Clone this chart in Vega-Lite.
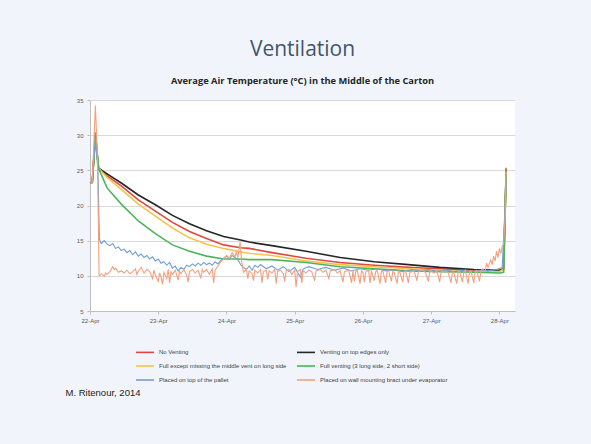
{
"$schema": "https://vega.github.io/schema/vega-lite/v6.json",
"width": 425, "height": 211,
"autosize": {"type": "none"},
"padding": {"left": 90, "top": 100, "right": 76, "bottom": 133},
"background": "#f1f5fb",
"config": {"view": {"stroke": null, "fill": "#ffffff"}, "font": "Liberation Sans"},
"title": {"text": "Ventilation", "subtitle": "Average Air Temperature (°C) in the Middle of the Carton", "font": "Open Sans", "fontSize": 21, "fontWeight": "normal", "color": "#44546a", "subtitleFont": "Open Sans", "subtitleFontSize": 9.3, "subtitleFontWeight": "bold", "subtitleColor": "#262626", "subtitlePadding": 17, "offset": 11, "anchor": "middle"},
"datasets": {
"smooth": [
{"t":"2014-04-22T00:00","a":23.2,"b":23.2,"c":23.2,"d":23.2},
{"t":"2014-04-22T00:48","a":23.3,"b":23.3,"c":23.3,"d":23.3},
{"t":"2014-04-22T01:54","a":30.2,"b":29.8,"c":30.0,"d":30.4},
{"t":"2014-04-22T03:00","a":25.3,"b":25.3,"c":25.3,"d":25.3},
{"t":"2014-04-22T06:00","a":24.2,"b":24.5,"c":24.0,"d":22.5},
{"t":"2014-04-22T11:00","a":22.8,"b":23.2,"c":22.3,"d":20.2},
{"t":"2014-04-22T17:00","a":20.8,"b":21.5,"c":20.2,"d":17.8},
{"t":"2014-04-22T23:00","a":19.2,"b":20.1,"c":18.5,"d":16.0},
{"t":"2014-04-23T05:00","a":17.6,"b":18.6,"c":16.8,"d":14.4},
{"t":"2014-04-23T11:00","a":16.3,"b":17.4,"c":15.4,"d":13.5},
{"t":"2014-04-23T17:00","a":15.3,"b":16.4,"c":14.5,"d":12.8},
{"t":"2014-04-23T23:00","a":14.4,"b":15.6,"c":13.9,"d":12.4},
{"t":"2014-04-24T05:00","a":14.0,"b":15.1,"c":13.4,"d":12.4},
{"t":"2014-04-24T08:00","a":13.9,"b":14.8,"c":13.2,"d":12.3},
{"t":"2014-04-24T16:00","a":13.3,"b":14.3,"c":12.9,"d":12.3},
{"t":"2014-04-25T04:00","a":12.5,"b":13.5,"c":12.1,"d":11.9},
{"t":"2014-04-25T16:00","a":11.9,"b":12.6,"c":11.6,"d":11.3},
{"t":"2014-04-26T04:00","a":11.5,"b":12.0,"c":11.3,"d":11.0},
{"t":"2014-04-26T16:00","a":11.2,"b":11.6,"c":11.0,"d":10.7},
{"t":"2014-04-27T03:00","a":11.0,"b":11.2,"c":10.8,"d":10.6},
{"t":"2014-04-27T15:00","a":10.7,"b":10.9,"c":10.6,"d":10.5},
{"t":"2014-04-28T00:00","a":10.7,"b":10.8,"c":10.6,"d":10.4},
{"t":"2014-04-28T01:30","a":11.0,"b":11.0,"c":11.0,"d":10.5},
{"t":"2014-04-28T02:24","a":25.0,"b":25.3,"c":24.8,"d":24.5}
],
"pallet": [
{"t":"2014-04-22T00:00","v":23.2},{"t":"2014-04-22T00:48","v":23.4},{"t":"2014-04-22T01:54","v":29.5},{"t":"2014-04-22T02:48","v":25.0},{"t":"2014-04-22T03:18","v":15.2},
{"t":"2014-04-22T04:00","v":14.6},{"t":"2014-04-22T05:00","v":15.0},{"t":"2014-04-22T06:00","v":14.5},{"t":"2014-04-22T07:00","v":14.3},{"t":"2014-04-22T08:00","v":14.6},
{"t":"2014-04-22T09:00","v":13.9},{"t":"2014-04-22T10:00","v":14.1},{"t":"2014-04-22T11:00","v":13.6},{"t":"2014-04-22T12:00","v":13.8},{"t":"2014-04-22T13:00","v":13.3},
{"t":"2014-04-22T14:00","v":13.6},{"t":"2014-04-22T15:00","v":13.0},{"t":"2014-04-22T16:00","v":13.4},{"t":"2014-04-22T17:00","v":12.8},{"t":"2014-04-22T18:00","v":13.1},
{"t":"2014-04-22T19:00","v":12.6},{"t":"2014-04-22T20:00","v":12.9},{"t":"2014-04-22T21:00","v":12.4},{"t":"2014-04-22T22:00","v":12.7},{"t":"2014-04-22T23:00","v":12.1},
{"t":"2014-04-23T00:00","v":12.4},{"t":"2014-04-23T01:00","v":11.8},{"t":"2014-04-23T02:00","v":12.0},{"t":"2014-04-23T03:00","v":11.5},{"t":"2014-04-23T04:00","v":11.9},
{"t":"2014-04-23T05:00","v":11.1},{"t":"2014-04-23T06:00","v":11.4},{"t":"2014-04-23T07:00","v":10.7},{"t":"2014-04-23T08:00","v":11.2},{"t":"2014-04-23T09:00","v":10.9},
{"t":"2014-04-23T10:00","v":11.5},{"t":"2014-04-23T11:00","v":11.3},{"t":"2014-04-23T12:00","v":11.7},{"t":"2014-04-23T13:00","v":11.4},{"t":"2014-04-23T14:00","v":11.8},
{"t":"2014-04-23T15:00","v":11.5},{"t":"2014-04-23T16:00","v":11.9},{"t":"2014-04-23T17:00","v":11.6},{"t":"2014-04-23T18:00","v":11.8},{"t":"2014-04-23T19:00","v":11.5},
{"t":"2014-04-23T20:00","v":12.0},{"t":"2014-04-23T21:00","v":11.7},{"t":"2014-04-23T22:00","v":12.2},{"t":"2014-04-23T23:00","v":12.5},{"t":"2014-04-24T00:00","v":12.8},
{"t":"2014-04-24T01:00","v":12.4},{"t":"2014-04-24T02:00","v":12.9},{"t":"2014-04-24T03:00","v":12.6},{"t":"2014-04-24T04:00","v":12.3},{"t":"2014-04-24T05:00","v":11.6},
{"t":"2014-04-24T06:00","v":11.2},{"t":"2014-04-24T07:00","v":10.9},{"t":"2014-04-24T08:00","v":11.4},{"t":"2014-04-24T09:00","v":10.8},{"t":"2014-04-24T10:00","v":11.5},
{"t":"2014-04-24T11:00","v":11.2},{"t":"2014-04-24T12:00","v":11.6},{"t":"2014-04-24T14:00","v":11.0},{"t":"2014-04-24T16:00","v":11.4},{"t":"2014-04-24T18:00","v":10.8},
{"t":"2014-04-24T20:00","v":11.3},{"t":"2014-04-24T22:00","v":10.6},{"t":"2014-04-25T00:00","v":11.2},{"t":"2014-04-25T02:00","v":9.8},{"t":"2014-04-25T03:00","v":11.0},
{"t":"2014-04-25T05:00","v":11.3},{"t":"2014-04-25T08:00","v":10.9},{"t":"2014-04-25T11:00","v":11.2},{"t":"2014-04-25T14:00","v":10.8},{"t":"2014-04-25T17:00","v":11.1},
{"t":"2014-04-25T20:00","v":10.7},{"t":"2014-04-25T23:00","v":11.0},{"t":"2014-04-26T02:00","v":10.8},{"t":"2014-04-26T05:00","v":11.0},{"t":"2014-04-26T08:00","v":10.7},
{"t":"2014-04-26T11:00","v":10.9},{"t":"2014-04-26T14:00","v":10.6},{"t":"2014-04-26T17:00","v":10.9},{"t":"2014-04-26T20:00","v":10.7},{"t":"2014-04-26T23:00","v":10.9},
{"t":"2014-04-27T02:00","v":10.6},{"t":"2014-04-27T05:00","v":10.8},{"t":"2014-04-27T08:00","v":10.6},{"t":"2014-04-27T11:00","v":10.8},{"t":"2014-04-27T14:00","v":10.6},
{"t":"2014-04-27T17:00","v":10.8},{"t":"2014-04-27T20:00","v":10.7},{"t":"2014-04-27T23:00","v":10.9},{"t":"2014-04-28T01:00","v":11.2},{"t":"2014-04-28T02:24","v":23.2}
],
"wall": [
{"t":"2014-04-22T00:00","v":23.2},{"t":"2014-04-22T00:48","v":23.3},{"t":"2014-04-22T01:54","v":34.2},{"t":"2014-04-22T02:36","v":27.0},{"t":"2014-04-22T03:12","v":10.0},
{"t":"2014-04-22T04:00","v":10.3},{"t":"2014-04-22T05:00","v":9.9},{"t":"2014-04-22T05:30","v":10.4},{"t":"2014-04-22T06:00","v":10.2},{"t":"2014-04-22T07:00","v":10.6},
{"t":"2014-04-22T08:00","v":11.3},{"t":"2014-04-22T08:30","v":10.9},{"t":"2014-04-22T09:00","v":11.1},{"t":"2014-04-22T10:00","v":10.5},{"t":"2014-04-22T11:00","v":10.7},
{"t":"2014-04-22T12:00","v":10.4},{"t":"2014-04-22T13:00","v":10.8},{"t":"2014-04-22T14:00","v":10.3},{"t":"2014-04-22T15:00","v":10.6},{"t":"2014-04-22T16:00","v":11.0},
{"t":"2014-04-22T16:30","v":10.2},{"t":"2014-04-22T17:00","v":10.7},{"t":"2014-04-22T18:00","v":11.2},{"t":"2014-04-22T19:00","v":10.4},{"t":"2014-04-22T20:00","v":10.9},
{"t":"2014-04-22T21:00","v":10.6},{"t":"2014-04-22T22:00","v":9.6},{"t":"2014-04-22T22:30","v":10.8},{"t":"2014-04-22T23:00","v":10.1},{"t":"2014-04-23T00:00","v":9.2},
{"t":"2014-04-23T00:30","v":10.4},{"t":"2014-04-23T01:00","v":9.8},{"t":"2014-04-23T01:30","v":8.8},{"t":"2014-04-23T02:00","v":10.5},{"t":"2014-04-23T03:00","v":9.6},
{"t":"2014-04-23T03:30","v":10.9},{"t":"2014-04-23T04:00","v":9.0},{"t":"2014-04-23T04:30","v":10.6},{"t":"2014-04-23T05:00","v":10.2},{"t":"2014-04-23T06:00","v":10.8},
{"t":"2014-04-23T07:00","v":9.4},{"t":"2014-04-23T07:30","v":10.7},{"t":"2014-04-23T08:00","v":10.3},{"t":"2014-04-23T09:00","v":10.9},{"t":"2014-04-23T10:00","v":10.1},
{"t":"2014-04-23T10:30","v":9.1},{"t":"2014-04-23T11:00","v":10.6},{"t":"2014-04-23T12:00","v":10.9},{"t":"2014-04-23T13:00","v":10.4},{"t":"2014-04-23T14:00","v":10.8},
{"t":"2014-04-23T15:00","v":9.7},{"t":"2014-04-23T15:30","v":10.9},{"t":"2014-04-23T16:00","v":10.5},{"t":"2014-04-23T17:00","v":10.9},{"t":"2014-04-23T18:00","v":10.2},
{"t":"2014-04-23T19:00","v":11.0},{"t":"2014-04-23T19:30","v":9.0},{"t":"2014-04-23T20:00","v":10.8},{"t":"2014-04-23T21:00","v":11.4},{"t":"2014-04-23T22:00","v":12.0},
{"t":"2014-04-23T23:00","v":12.4},{"t":"2014-04-24T00:00","v":12.9},{"t":"2014-04-24T01:00","v":12.5},{"t":"2014-04-24T02:00","v":13.3},{"t":"2014-04-24T03:00","v":12.7},
{"t":"2014-04-24T03:30","v":13.4},{"t":"2014-04-24T04:00","v":12.6},{"t":"2014-04-24T04:48","v":14.8},{"t":"2014-04-24T05:18","v":12.2},{"t":"2014-04-24T06:00","v":10.5},
{"t":"2014-04-24T07:00","v":10.9},{"t":"2014-04-24T07:30","v":9.6},{"t":"2014-04-24T08:00","v":10.7},{"t":"2014-04-24T09:00","v":10.3},{"t":"2014-04-24T09:30","v":9.3},
{"t":"2014-04-24T10:00","v":10.8},{"t":"2014-04-24T11:00","v":10.4},{"t":"2014-04-24T12:00","v":10.9},{"t":"2014-04-24T12:30","v":9.0},{"t":"2014-04-24T13:00","v":10.6},
{"t":"2014-04-24T14:00","v":10.8},{"t":"2014-04-24T14:30","v":9.5},{"t":"2014-04-24T15:00","v":10.7},{"t":"2014-04-24T16:00","v":10.4},{"t":"2014-04-24T17:00","v":10.9},
{"t":"2014-04-24T17:30","v":8.9},{"t":"2014-04-24T18:00","v":10.6},{"t":"2014-04-24T19:00","v":10.8},{"t":"2014-04-24T20:00","v":10.3},{"t":"2014-04-24T20:30","v":9.2},
{"t":"2014-04-24T21:00","v":10.7},{"t":"2014-04-24T22:00","v":10.9},{"t":"2014-04-24T23:00","v":10.2},{"t":"2014-04-25T00:00","v":10.8},{"t":"2014-04-25T00:30","v":8.4},
{"t":"2014-04-25T01:00","v":10.6},{"t":"2014-04-25T02:00","v":10.9},{"t":"2014-04-25T02:30","v":9.0},{"t":"2014-04-25T03:00","v":10.7},{"t":"2014-04-25T04:00","v":10.4},
{"t":"2014-04-25T05:00","v":10.8},{"t":"2014-04-25T06:00","v":10.6},{"t":"2014-04-25T07:00","v":9.3},{"t":"2014-04-25T07:30","v":10.7},{"t":"2014-04-25T09:00","v":10.9},
{"t":"2014-04-25T10:00","v":10.5},{"t":"2014-04-25T11:00","v":10.8},{"t":"2014-04-25T12:00","v":9.6},{"t":"2014-04-25T12:30","v":10.7},{"t":"2014-04-25T14:00","v":10.9},
{"t":"2014-04-25T15:00","v":10.4},{"t":"2014-04-25T16:00","v":10.7},{"t":"2014-04-25T17:00","v":9.1},{"t":"2014-04-25T17:30","v":10.6},{"t":"2014-04-25T19:00","v":10.8},
{"t":"2014-04-25T20:00","v":9.0},{"t":"2014-04-25T20:30","v":10.7},{"t":"2014-04-25T21:00","v":9.2},{"t":"2014-04-25T21:30","v":10.6},{"t":"2014-04-25T22:00","v":10.8},
{"t":"2014-04-25T23:00","v":8.9},{"t":"2014-04-25T23:30","v":10.7},{"t":"2014-04-26T00:00","v":10.5},{"t":"2014-04-26T00:30","v":9.1},{"t":"2014-04-26T01:00","v":10.6},
{"t":"2014-04-26T02:00","v":10.8},{"t":"2014-04-26T02:30","v":9.0},{"t":"2014-04-26T03:00","v":10.7},{"t":"2014-04-26T04:00","v":9.3},{"t":"2014-04-26T04:30","v":10.6},
{"t":"2014-04-26T05:00","v":10.8},{"t":"2014-04-26T06:00","v":8.9},{"t":"2014-04-26T06:30","v":10.6},{"t":"2014-04-26T07:00","v":10.7},{"t":"2014-04-26T08:00","v":9.0},
{"t":"2014-04-26T08:30","v":10.6},{"t":"2014-04-26T09:00","v":10.8},{"t":"2014-04-26T10:00","v":9.2},{"t":"2014-04-26T10:30","v":10.6},{"t":"2014-04-26T11:00","v":10.5},
{"t":"2014-04-26T12:00","v":8.9},{"t":"2014-04-26T12:30","v":10.7},{"t":"2014-04-26T13:00","v":10.5},{"t":"2014-04-26T14:00","v":9.1},{"t":"2014-04-26T14:30","v":10.6},
{"t":"2014-04-26T15:00","v":10.7},{"t":"2014-04-26T16:00","v":9.0},{"t":"2014-04-26T16:30","v":10.5},{"t":"2014-04-26T18:00","v":10.7},{"t":"2014-04-26T19:00","v":9.3},
{"t":"2014-04-26T19:30","v":10.6},{"t":"2014-04-26T21:00","v":10.8},{"t":"2014-04-26T22:00","v":10.5},{"t":"2014-04-26T23:00","v":9.2},{"t":"2014-04-26T23:30","v":10.6},
{"t":"2014-04-27T00:00","v":10.7},{"t":"2014-04-27T01:00","v":10.4},{"t":"2014-04-27T02:00","v":10.8},{"t":"2014-04-27T03:00","v":9.1},{"t":"2014-04-27T03:30","v":10.6},
{"t":"2014-04-27T05:00","v":10.7},{"t":"2014-04-27T06:00","v":10.5},{"t":"2014-04-27T07:00","v":9.0},{"t":"2014-04-27T07:30","v":10.6},{"t":"2014-04-27T08:00","v":10.4},
{"t":"2014-04-27T09:00","v":8.9},{"t":"2014-04-27T09:30","v":10.6},{"t":"2014-04-27T10:00","v":10.7},{"t":"2014-04-27T11:00","v":9.1},{"t":"2014-04-27T11:30","v":10.5},
{"t":"2014-04-27T12:00","v":10.8},{"t":"2014-04-27T13:00","v":8.9},{"t":"2014-04-27T13:30","v":10.6},{"t":"2014-04-27T14:00","v":10.7},{"t":"2014-04-27T15:00","v":9.0},
{"t":"2014-04-27T15:30","v":10.6},{"t":"2014-04-27T16:00","v":10.8},{"t":"2014-04-27T17:00","v":9.2},{"t":"2014-04-27T17:30","v":10.7},{"t":"2014-04-27T18:00","v":11.0},
{"t":"2014-04-27T19:00","v":10.6},{"t":"2014-04-27T19:30","v":11.8},{"t":"2014-04-27T20:00","v":11.2},{"t":"2014-04-27T21:00","v":12.3},{"t":"2014-04-27T21:30","v":11.6},
{"t":"2014-04-27T22:00","v":12.8},{"t":"2014-04-27T22:30","v":12.1},{"t":"2014-04-27T23:00","v":13.5},{"t":"2014-04-27T23:30","v":12.6},{"t":"2014-04-28T00:00","v":13.9},
{"t":"2014-04-28T00:30","v":13.2},{"t":"2014-04-28T01:00","v":14.2},{"t":"2014-04-28T01:30","v":14.5},{"t":"2014-04-28T02:00","v":18.0},{"t":"2014-04-28T02:24","v":25.4}
]
},
"encoding": {
"x": {"field": "t", "type": "temporal",
 "scale": {"domain": [{"year": 2014, "month": "apr", "date": 22}, {"year": 2014, "month": "apr", "date": 28, "hours": 5, "minutes": 30}]},
 "axis": {"format": "%-d-%b", "tickCount": {"interval": "day", "step": 1}, "labelFlush": false, "labelOverlap": false, "labelFontSize": 6, "labelColor": "#595959", "tickColor": "#bfbfbf", "tickSize": 3, "domainColor": "#bfbfbf", "grid": false, "labelPadding": 3,
  "title": "M. Ritenour, 2014", "titleFont": "Liberation Sans", "titleFontSize": 9.5, "titleFontWeight": "normal", "titleColor": "#1a1a1a", "titleAnchor": "start", "titleAlign": "left", "titleBaseline": "top", "titleX": -25, "titleY": 76}},
"y": {"field": "v", "type": "quantitative",
 "scale": {"domain": [5, 35], "nice": false, "zero": false},
 "axis": {"values": [5, 10, 15, 20, 25, 30, 35], "labelFontSize": 6, "labelColor": "#595959", "gridColor": "#d9d9d9", "gridWidth": 1, "domainColor": "#bfbfbf", "tickColor": "#bfbfbf", "tickSize": 3, "labelPadding": 4, "title": null}}
},
"layer": [
{"data": {"name": "smooth"},
 "transform": [{"fold": ["a", "b", "c", "d"], "as": ["s", "v"]}],
 "mark": {"type": "line", "strokeWidth": 1.6},
 "encoding": {"color": {"field": "s", "type": "nominal",
  "scale": {"domain": ["a", "c", "e", "b", "d", "f"], "range": ["#e4473d", "#f5c44e", "#6e9fd6", "#262626", "#4cb55a", "#f4a07e"]},
  "legend": {"orient": "none", "legendX": 45, "legendY": 242, "columns": 2, "title": null, "symbolType": "stroke", "symbolSize": 324, "symbolStrokeWidth": 1.6, "labelFontSize": 6, "labelColor": "#404040", "labelOffset": 4, "rowPadding": -5, "columnPadding": 6, "labelLimit": 300, "padding": 0,
   "labelExpr": "{'a':'No Venting','b':'Venting on top edges only','c':'Full except missing the middle vent on long side','d':'Full venting (3 long side, 2 short side)','e':'Placed on top of the pallet','f':'Placed on wall mounting bract under evaporator'}[datum.label]"}}}},
{"data": {"name": "pallet"},
 "mark": {"type": "line", "strokeWidth": 1.1},
 "encoding": {"color": {"datum": "e", "type": "nominal"}}},
{"data": {"name": "wall"},
 "mark": {"type": "line", "strokeWidth": 1.1},
 "encoding": {"color": {"datum": "f", "type": "nominal"}}}
]
}
